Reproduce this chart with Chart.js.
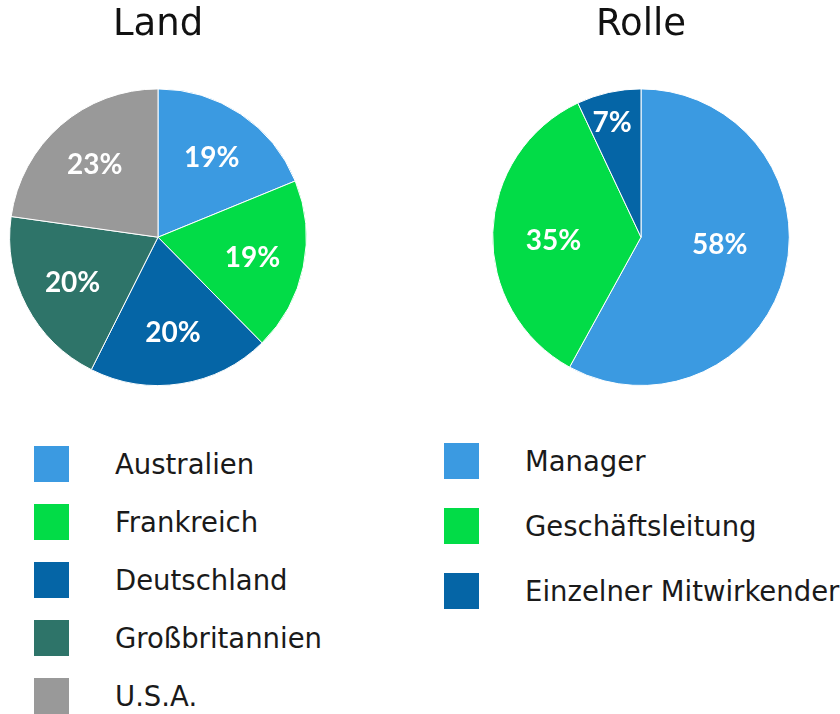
<!DOCTYPE html>
<html>
<head>
<meta charset="utf-8">
<script src="https://cdn.jsdelivr.net/npm/chart.js@4/dist/chart.umd.min.js"></script>
<style>
  body { margin: 0; background: #fff; width: 840px; height: 714px; position: relative; overflow: hidden;
         font-family: "DejaVu Sans", sans-serif; }
  .pie-box { position: absolute; top: 0; width: 316px; height: 400px; }
  #box-land { left: 0; }
  #box-rolle { left: 483px; }
  .legend { position: absolute; margin: 0; padding: 0; list-style: none; }
  .legend li { position: absolute; left: 0; white-space: nowrap; }
  .legend .swatch { position: absolute; left: 0; top: 0; width: 35px; height: 36px; }
  .legend .txt { position: absolute; top: 18px; transform: translateY(-50%); font-size: 27.5px; color: #1a1a1a; }
  #legend-land { left: 34px; top: 446px; }
  #legend-rolle { left: 444px; top: 443px; }
</style>
</head>
<body>
<div class="pie-box" id="box-land"><canvas id="landChart"></canvas></div>
<div class="pie-box" id="box-rolle"><canvas id="rolleChart"></canvas></div>
<ul class="legend" id="legend-land"></ul>
<ul class="legend" id="legend-rolle"></ul>

<script>
// Daten der beiden Kreisdiagramme (Prozent)
var landLabels = ['Australien', 'Frankreich', 'Deutschland', 'Großbritannien', 'U.S.A.'];
var landValues = [19, 19, 20, 20, 23];
var landColors = ['#3b9ae1', '#02dc47', '#0565a6', '#2e7469', '#999999'];

var rolleLabels = ['Manager', 'Geschäftsleitung', 'Einzelner Mitwirkender'];
var rolleValues = [58, 35, 7];
var rolleColors = ['#3b9ae1', '#02dc47', '#0565a6'];

var FONT = '"DejaVu Sans", sans-serif';
var LABEL_FONT = 'bold 28px Lato, "DejaVu Sans", sans-serif';

// Prozentwerte in die Segmente schreiben
var sliceLabels = {
    id: 'sliceLabels',
    afterDatasetsDraw: function(chart, args, opts) {
        var ctx = chart.ctx;
        var meta = chart.getDatasetMeta(0);
        var values = chart.data.datasets[0].data;
        var nudge = opts.nudge || [];
        ctx.save();
        ctx.fillStyle = '#fff';
        ctx.font = LABEL_FONT;
        ctx.textAlign = 'center';
        ctx.textBaseline = 'alphabetic';
        meta.data.forEach(function(arc, i) {
            var p = arc.getProps(['x', 'y', 'startAngle', 'endAngle', 'outerRadius'], true);
            var mid = (p.startAngle + p.endAngle) / 2;
            var f = Array.isArray(opts.radius) ? opts.radius[i] : opts.radius;
            var r = p.outerRadius * f;
            var d = nudge[i] || [0, 0];
            var x = p.x + Math.cos(mid) * r + d[0];
            var y = p.y + Math.sin(mid) * r + d[1];
            // Grundlinie so setzen, dass die Ziffern mittig sitzen
            ctx.fillText(values[i] + '%', x, y + 10);
        });
        ctx.restore();
    }
};

// Legende als HTML-Liste unter dem Diagramm
function buildLegend(chart, listId, step) {
    var ul = document.getElementById(listId);
    ul.innerHTML = '';
    var ds = chart.data.datasets[0];
    chart.data.labels.forEach(function(label, i) {
        var li = document.createElement('li');
        li.style.top = (i * step) + 'px';
        var sw = document.createElement('span');
        sw.className = 'swatch';
        sw.style.background = ds.backgroundColor[i];
        var tx = document.createElement('span');
        tx.className = 'txt';
        tx.style.left = '81px';
        tx.textContent = label;
        li.appendChild(sw);
        li.appendChild(tx);
        ul.appendChild(li);
    });
}

function makePie(canvasId, title, labels, values, colors, labelOpts) {
    var ctx = document.getElementById(canvasId).getContext('2d');
    return new Chart(ctx, {
        type: 'pie',
        data: {
            labels: labels,
            datasets: [{
                data: values,
                backgroundColor: colors,
                borderColor: '#fff',
                borderWidth: 1
            }]
        },
        options: {
            responsive: true,
            maintainAspectRatio: false,
            animation: false,
            layout: { padding: { left: 9, right: 9, top: 0, bottom: 14 } },
            plugins: {
                legend: { display: false },
                tooltip: { enabled: false },
                title: {
                    display: true,
                    text: title,
                    color: '#111',
                    font: { family: FONT, size: 37, weight: 'normal' },
                    padding: { top: 3, bottom: 41 }
                },
                sliceLabels: labelOpts
            }
        },
        plugins: [sliceLabels]
    });
}

var landChart = makePie('landChart', 'Land', landLabels, landValues, landColors, { radius: 0.65 });
var rolleChart = makePie('rolleChart', 'Rolle', rolleLabels, rolleValues, rolleColors, {
    radius: [0.52, 0.59, 0.8],
    nudge: [[4, -12], [0, 6], [-3, 1]]
});

buildLegend(landChart, 'legend-land', 58);
buildLegend(rolleChart, 'legend-rolle', 65);
</script>
</body>
</html>
